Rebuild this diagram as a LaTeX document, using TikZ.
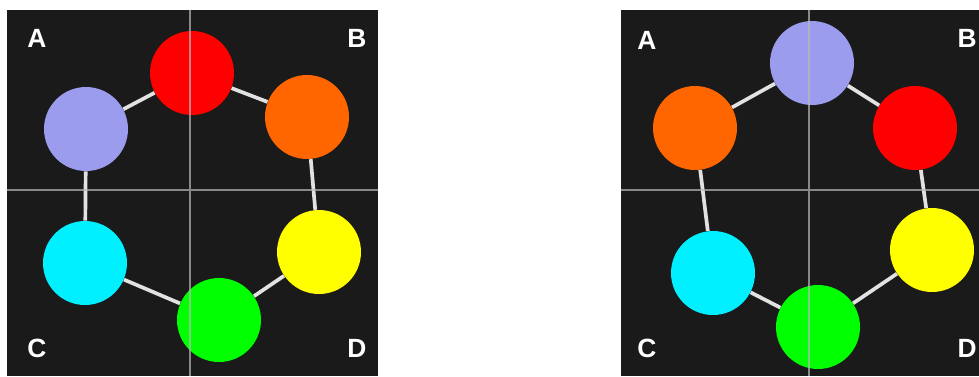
\documentclass[tikz,border=0pt]{standalone}
\usepackage{fontspec}
\setmainfont{Liberation Sans}
\usepackage{tikz}
\definecolor{panelbg}{HTML}{1A1A1A}
\definecolor{linkgrey}{HTML}{E2E2E2}
\definecolor{discred}{HTML}{FF0000}
\definecolor{discorange}{HTML}{FF6600}
\definecolor{disclav}{HTML}{9C9CEE}
\definecolor{disccyan}{HTML}{00F0FF}
\definecolor{discgreen}{HTML}{00FF00}
\definecolor{discyellow}{HTML}{FFFF00}

\begin{document}
\begin{tikzpicture}[x=0.02cm,y=-0.02cm,
		disc/.style={circle,minimum size=1.68cm,inner sep=0pt},
		link/.style={draw=linkgrey,line width=2.1pt},
		hair/.style={draw=gray!55,line width=1.2pt,opacity=0.7},
		corner/.style={text=white,font=\fontsize{15}{18}\selectfont\bfseries}]
			\useasboundingbox (0,0) rectangle (979,376);
			\fill[panelbg] (7,10) rectangle (378,376);
			\node[disc,fill=discred] (Rd) at (192,73) {};
			\node[disc,fill=discorange] (Or) at (307,117) {};
			\node[disc,fill=discyellow] (Ye) at (319,252) {};
			\node[disc,fill=discgreen] (Gr) at (219,320) {};
			\node[disc,fill=disccyan] (Cy) at (85,263) {};
			\node[disc,fill=disclav] (Lv) at (86,129) {};
			\draw[link] (Rd) -- (Or) -- (Ye) -- (Gr) -- (Cy) -- (Lv) -- (Rd);
			\draw[hair] (190,10) -- (190,376) (7,190) -- (378,190);
			\node[corner] (A) at (37,38) {A};
			\node[corner] (B) at (357,38) {B};
			\node[corner] (C) at (37,348) {C};
			\node[corner] (D) at (357,348) {D};
			\begin{scope}
				\fill[panelbg] (621,10) rectangle (979,376);
				\node[disc,fill=disclav] (Lv) at (812,63) {};
				\node[disc,fill=discred] (Rd) at (915,128) {};
				\node[disc,fill=discyellow] (Ye) at (932,250) {};
				\node[disc,fill=discgreen] (Gr) at (818,327) {};
				\node[disc,fill=disccyan] (Cy) at (713,273) {};
				\node[disc,fill=discorange] (Or) at (695,128) {};
				\draw[link] (Lv) -- (Rd) -- (Ye) -- (Gr) -- (Cy) -- (Or) -- (Lv);
				\draw[hair] (809,10) -- (809,376) (621,190) -- (979,190);
				\node[corner] (A) at (647,40) {A};
				\node[corner] (B) at (967,38) {B};
				\node[corner] (C) at (647,348) {C};
				\node[corner] (D) at (967,348) {D};
			\end{scope}
		\end{tikzpicture}
\end{document}
